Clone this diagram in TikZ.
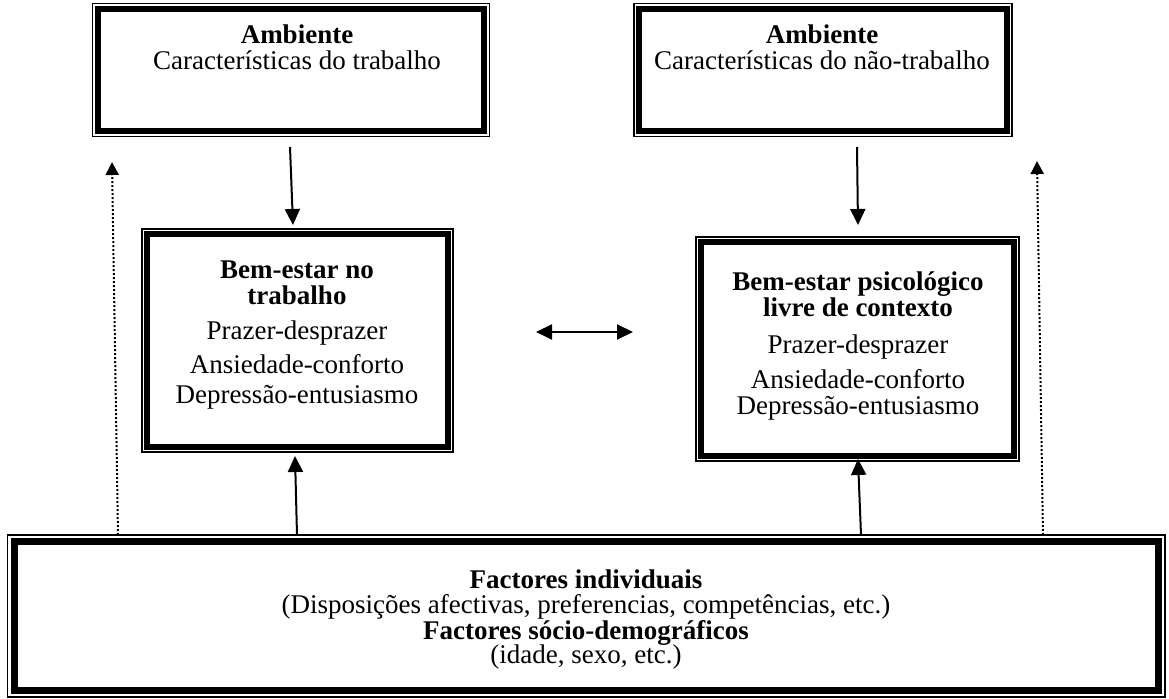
\documentclass[tikz,border=0pt]{standalone}
\usepackage{fontspec}
\setmainfont{Liberation Serif}
\usetikzlibrary{arrows.meta}
\begin{document}
\begin{tikzpicture}[x=0.5pt,y=-0.5pt,
  frame/.style={draw, line width=0.6pt, inner sep=0pt},
  heavy/.style={line width=3pt},
  heavier/.style={line width=3.5pt},
  txt/.style={font=\fontsize{13.5pt}{16pt}\selectfont, inner sep=0pt, anchor=base},
  bld/.style={txt, font=\fontsize{13.5pt}{16pt}\selectfont\bfseries},
  link/.style={line width=1pt, -{Triangle[length=8pt,width=7.5pt]}},
  both/.style={line width=1pt, {Triangle[length=8pt,width=7.5pt]}-{Triangle[length=8pt,width=7.5pt]}},
  hint/.style={line width=1pt, dash pattern=on 1pt off 1pt, -{Triangle[length=6.5pt,width=6.5pt]}}
]
\useasboundingbox (0,0) rectangle (1169,699);

% --- boxes: thin outer frame with a heavy inner frame ---
\node[frame, minimum width=198.5pt, minimum height=66.5pt] (tl) at (291,70) {};
\draw[heavy] ([shift={(6,6)}]tl.north west) rectangle ([shift={(-6,-6)}]tl.south east);

\node[frame, minimum width=189pt, minimum height=66.5pt] (tr) at (823,70) {};
\draw[heavy] ([shift={(6,6)}]tr.north west) rectangle ([shift={(-6,-6)}]tr.south east);

\node[frame, minimum width=155.5pt, minimum height=111.5pt] (ml) at (297.5,340.5) {};
\draw[heavy] ([shift={(6,6)}]ml.north west) rectangle ([shift={(-6,-6)}]ml.south east);

\node[frame, minimum width=161.5pt, minimum height=112pt] (mr) at (857.5,349) {};
\draw[heavy] ([shift={(6,6)}]mr.north west) rectangle ([shift={(-6,-6)}]mr.south east);

\node[frame, minimum width=578.75pt, minimum height=81pt] (bt) at (586.25,616) {};
\draw[heavier] ([shift={(7.5,7.5)}]bt.north west) rectangle ([shift={(-7.5,-7.5)}]bt.south east);

% --- texts ---
\node[bld] (tl1) at (297,44) {Ambiente};
\node[txt] (tl2) at (297,70) {Características do trabalho};

\node[bld] (tr1) at (822,44) {Ambiente};
\node[txt] (tr2) at (822,70) {Características do não-trabalho};

\node[bld] (ml1) at (297,279) {Bem-estar no};
\node[bld] (ml2) at (297,305) {trabalho};
\node[txt] (ml3) at (297,340) {Prazer-desprazer};
\node[txt] (ml4) at (297,374) {Ansiedade-conforto};
\node[txt] (ml5) at (297,404) {Depressão-entusiasmo};

\node[bld] (mr1) at (858,291) {Bem-estar psicológico};
\node[bld] (mr2) at (858,317) {livre de contexto};
\node[txt] (mr3) at (858,354) {Prazer-desprazer};
\node[txt] (mr4) at (858,389) {Ansiedade-conforto};
\node[txt] (mr5) at (858,415) {Depressão-entusiasmo};

\node[bld] (bt1) at (586,589) {Factores individuais};
\node[txt] (bt2) at (586,614) {(Disposições afectivas, preferencias, competências, etc.)};
\node[bld] (bt3) at (586,640) {Factores sócio-demográficos};
\node[txt] (bt4) at (586,664) {(idade, sexo, etc.)};

% --- connector end points ---
\coordinate (d1a) at (290,147);  \coordinate (d1b) at (293,225);
\coordinate (d2a) at (857,147);  \coordinate (d2b) at (858,225);
\coordinate (u1a) at (297,535);  \coordinate (u1b) at (295,456);
\coordinate (u2a) at (861,535);  \coordinate (u2b) at (858,459);
\coordinate (hL) at (536,332);   \coordinate (hR) at (633,332);
\coordinate (p1a) at (118,535);  \coordinate (p1b) at (112,162);
\coordinate (p2a) at (1043,535); \coordinate (p2b) at (1037,161);

% --- connectors ---
\draw[link] (d1a) -- (d1b);
\draw[link] (d2a) -- (d2b);
\draw[link] (u1a) -- (u1b);
\draw[link] (u2a) -- (u2b);
\draw[both] (hL) -- (hR);
\draw[hint] (p1a) -- (p1b);
\draw[hint] (p2a) -- (p2b);
\end{tikzpicture}
\end{document}
